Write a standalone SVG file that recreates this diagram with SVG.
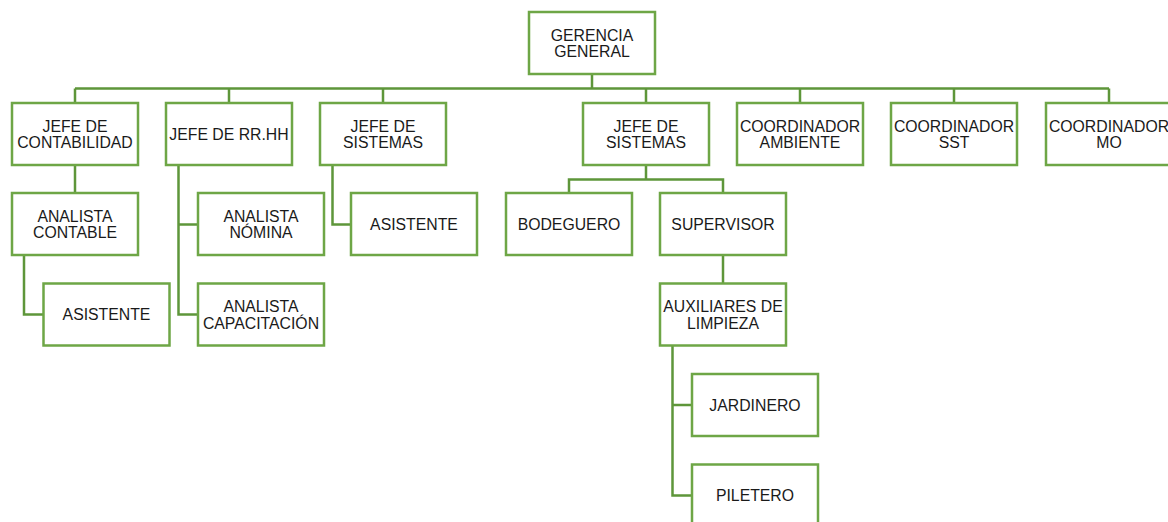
<svg xmlns="http://www.w3.org/2000/svg" width="1168" height="522" viewBox="0 0 1168 522">
<style>
.box{fill:#fff;stroke:#6ea646;stroke-width:2.5}
.ln{fill:none;stroke:#5e963a;stroke-width:2.5}
text{font-family:"Liberation Sans",Arial,sans-serif;font-size:15.8px;fill:#1a1a1a;text-anchor:middle}
</style>
<rect width="1168" height="522" fill="#fff"/>
<g id="connectors">
<path class="ln" d="M592 74V88.5M75 88.5H1109M75 88.5V103M229 88.5V103M383 88.5V103M646 88.5V103M800 88.5V103M954 88.5V103M1109 88.5V103"/>
<path class="ln" d="M75 165V193"/>
<path class="ln" d="M24 255V314.5H43.5"/>
<path class="ln" d="M178.5 165V314.5H198M178.5 224.5H198"/>
<path class="ln" d="M332.5 165V224.5H351"/>
<path class="ln" d="M646 165V179.5M569 193V179.5H723V193"/>
<path class="ln" d="M723 255V283.5"/>
<path class="ln" d="M672.5 345.5V495.5H692M672.5 405H692"/>
</g>
<g id="gerencia"><rect class="box" x="529" y="12" width="126" height="62"/><text x="592" y="40.5">GERENCIA</text><text x="592" y="57">GENERAL</text></g>
<g id="jefe-contabilidad"><rect class="box" x="12" y="103" width="126" height="62"/><text x="75" y="131.5">JEFE DE</text><text x="75" y="148">CONTABILIDAD</text></g>
<g id="jefe-rrhh"><rect class="box" x="166" y="103" width="126" height="62"/><text x="229" y="139.5">JEFE DE RR.HH</text></g>
<g id="jefe-sistemas-1"><rect class="box" x="320" y="103" width="126" height="62"/><text x="383" y="131.5">JEFE DE</text><text x="383" y="148">SISTEMAS</text></g>
<g id="jefe-sistemas-2"><rect class="box" x="583" y="103" width="126" height="62"/><text x="646" y="131.5">JEFE DE</text><text x="646" y="148">SISTEMAS</text></g>
<g id="coord-ambiente"><rect class="box" x="737" y="103" width="126" height="62"/><text x="800" y="131.5">COORDINADOR</text><text x="800" y="148">AMBIENTE</text></g>
<g id="coord-sst"><rect class="box" x="891" y="103" width="126" height="62"/><text x="954" y="131.5">COORDINADOR</text><text x="954" y="148">SST</text></g>
<g id="coord-mo"><rect class="box" x="1046" y="103" width="126" height="62"/><text x="1109" y="131.5">COORDINADOR</text><text x="1109" y="148">MO</text></g>
<g id="analista-contable"><rect class="box" x="12" y="193" width="126" height="62"/><text x="75" y="221.5">ANALISTA</text><text x="75" y="238">CONTABLE</text></g>
<g id="analista-nomina"><rect class="box" x="198" y="193" width="126" height="62"/><text x="261" y="221.5">ANALISTA</text><text x="261" y="238">NÓMINA</text></g>
<g id="asistente-sistemas"><rect class="box" x="351" y="193" width="126" height="62"/><text x="414" y="229.5">ASISTENTE</text></g>
<g id="bodeguero"><rect class="box" x="506" y="193" width="126" height="62"/><text x="569" y="229.5">BODEGUERO</text></g>
<g id="supervisor"><rect class="box" x="660" y="193" width="126" height="62"/><text x="723" y="229.5">SUPERVISOR</text></g>
<g id="asistente-contable"><rect class="box" x="43.5" y="283.5" width="126" height="62"/><text x="106.5" y="320">ASISTENTE</text></g>
<g id="analista-capacitacion"><rect class="box" x="198" y="283.5" width="126" height="62"/><text x="261" y="312">ANALISTA</text><text x="261" y="328.5">CAPACITACIÓN</text></g>
<g id="auxiliares"><rect class="box" x="660" y="283.5" width="126" height="62"/><text x="723" y="312">AUXILIARES DE</text><text x="723" y="328.5">LIMPIEZA</text></g>
<g id="jardinero"><rect class="box" x="692" y="374" width="126" height="62"/><text x="755" y="410.5">JARDINERO</text></g>
<g id="piletero"><rect class="box" x="692" y="464.5" width="126" height="62"/><text x="755" y="501">PILETERO</text></g>
</svg>
